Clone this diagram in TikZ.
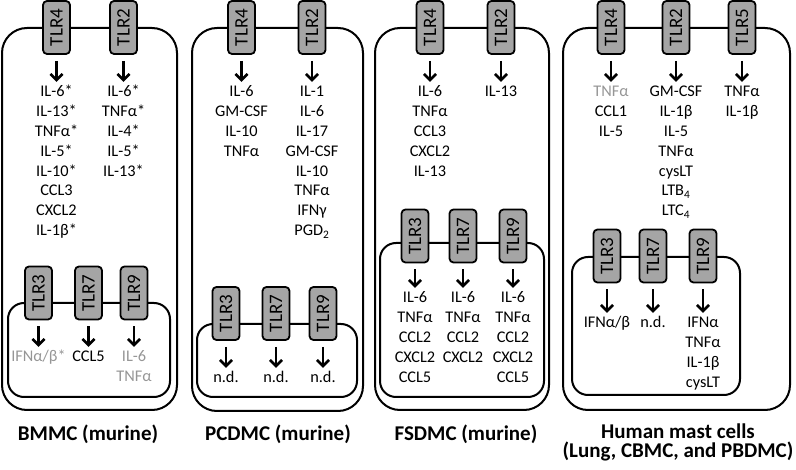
\documentclass[tikz,border=0pt]{standalone}
\usepackage{fontspec}
\setmainfont{Carlito}
\usetikzlibrary{arrows.meta}
\definecolor{tlrfill}{RGB}{165,165,165}
\definecolor{gtext}{RGB}{150,150,150}
\newcommand\cytolist[4]{%
  \foreach \itm [count=\k from 0] in {#4} {
    \node[cyt] (#1-\k) at (#2, #3+\k*19.8) {\itm};
  }%
}
\tikzset{
  cell/.style={line width=2pt, rounded corners=25pt},
  incell/.style={line width=2pt, rounded corners=16pt},
  tlr/.style={draw, line width=1.8pt, fill=tlrfill, rounded corners=4pt,
    minimum width=53pt, minimum height=27pt, inner sep=0pt, rotate=90,
    font=\fontsize{19}{21}\selectfont},
  cyt/.style={font=\fontsize{16.3}{19.8}\selectfont, anchor=base, inner sep=0pt,
    text height=11pt, text depth=3pt},
  arr/.style={line width=2.6pt, -{Straight Barb[length=6pt,width=12pt]},
    shorten <=6pt, shorten >=4pt},
  lbl/.style={font=\fontsize{21}{25}\selectfont\bfseries, anchor=base, inner sep=0pt}
}
\begin{document}
\begin{tikzpicture}[x=1pt,y=-1pt]
\useasboundingbox (0,0) rectangle (796,470);
% ---------- cell outlines ----------
\draw[cell] (2,28) rectangle (177,410);
\draw[incell] (8,303) rectangle (170,397);
\draw[cell] (192,28) rectangle (363,411);
\draw[incell] (197,324) rectangle (357,397);
\draw[cell] (375,28) rectangle (549,410);
\draw[incell] (380,243) rectangle (544,397);
\draw[cell] (563,28) rectangle (790,410);
\draw[incell] (572,257) rectangle (740,395);

% ---------- Panel 1: BMMC ----------
\node[tlr] (a4) at (56.5,27.5) {TLR4};
\node[tlr] (a2) at (123.5,27.5) {TLR2};
\node[tlr] (a3) at (38.5,293) {TLR3};
\node[tlr] (a7) at (88.5,293) {TLR7};
\node[tlr] (a9) at (134,293) {TLR9};
\cytolist{la4}{56.5}{97}{IL-6*,IL-13*,TNFα*,IL-5*,IL-10*,CCL3,CXCL2,IL-1β*}
\cytolist{la2}{123.5}{97}{IL-6*,TNFα*,IL-4*,IL-5*,IL-13*}
\cytolist{la3}{38.5}{362}{{\textcolor{gtext}{IFNα/β*}}}
\cytolist{la7}{88.5}{362}{CCL5}
\cytolist{la9}{134}{362}{{\textcolor{gtext}{IL-6}},{\textcolor{gtext}{TNFα}}}
\foreach \n in {4,2,3,7,9} \draw[arr] (a\n) -- (la\n-0);
\node[lbl] (labA) at (88,441) {BMMC (murine)};

% ---------- Panel 2: PCDMC ----------
\node[tlr] (b4) at (241.5,27.5) {TLR4};
\node[tlr] (b2) at (312,27.5) {TLR2};
\node[tlr] (b3) at (226,313.5) {TLR3};
\node[tlr] (b7) at (276,313.5) {TLR7};
\node[tlr] (b9) at (323,313.5) {TLR9};
\cytolist{lb4}{241.5}{97}{IL-6,GM-CSF,IL-10,TNFα}
\cytolist{lb2}{312}{97}{IL-1,IL-6,IL-17,GM-CSF,IL-10,TNFα,IFNγ,PGD\textsubscript{2}}
\cytolist{lb3}{226}{383}{n.d.}
\cytolist{lb7}{276}{383}{n.d.}
\cytolist{lb9}{323}{383}{n.d.}
\foreach \n in {4,2,3,7,9} \draw[arr] (b\n) -- (lb\n-0);
\node[lbl] (labB) at (278,441) {PCDMC (murine)};

% ---------- Panel 3: FSDMC ----------
\node[tlr] (c4) at (430,27.5) {TLR4};
\node[tlr] (c2) at (501,27.5) {TLR2};
\node[tlr] (c3) at (415,236) {TLR3};
\node[tlr] (c7) at (463,236) {TLR7};
\node[tlr] (c9) at (513,236) {TLR9};
\cytolist{lc4}{430}{97}{IL-6,TNFα,CCL3,CXCL2,IL-13}
\cytolist{lc2}{501}{97}{IL-13}
\cytolist{lc3}{415}{303}{IL-6,TNFα,CCL2,CXCL2,CCL5}
\cytolist{lc7}{463}{303}{IL-6,TNFα,CCL2,CXCL2}
\cytolist{lc9}{513}{303}{IL-6,TNFα,CCL2,CXCL2,CCL5}
\foreach \n in {4,2,3,7,9} \draw[arr] (c\n) -- (lc\n-0);
\node[lbl] (labC) at (466,441) {FSDMC (murine)};

% ---------- Panel 4: Human ----------
\node[tlr] (d4) at (611,27.5) {TLR4};
\node[tlr] (d2) at (676,27.5) {TLR2};
\node[tlr] (d5) at (742,27.5) {TLR5};
\node[tlr] (d3) at (607,256) {TLR3};
\node[tlr] (d7) at (653,256) {TLR7};
\node[tlr] (d9) at (703,256) {TLR9};
\cytolist{ld4}{611}{97}{{\textcolor{gtext}{TNFα}},CCL1,IL-5}
\cytolist{ld2}{676}{97}{GM-CSF,IL-1β,IL-5,TNFα,cysLT,LTB\textsubscript{4},LTC\textsubscript{4}}
\cytolist{ld5}{742}{97}{TNFα,IL-1β}
\cytolist{ld3}{607}{328}{IFNα/β}
\cytolist{ld7}{653}{328}{n.d.}
\cytolist{ld9}{703}{328}{IFNα,TNFα,IL-1β,cysLT}
\foreach \n in {4,2,5,3,7,9} \draw[arr] (d\n) -- (ld\n-0);
\node[lbl] (labD1) at (678,439) {Human mast cells};
\node[lbl] (labD2) at (678,458) {(Lung, CBMC, and PBDMC)};
\end{tikzpicture}
\end{document}
